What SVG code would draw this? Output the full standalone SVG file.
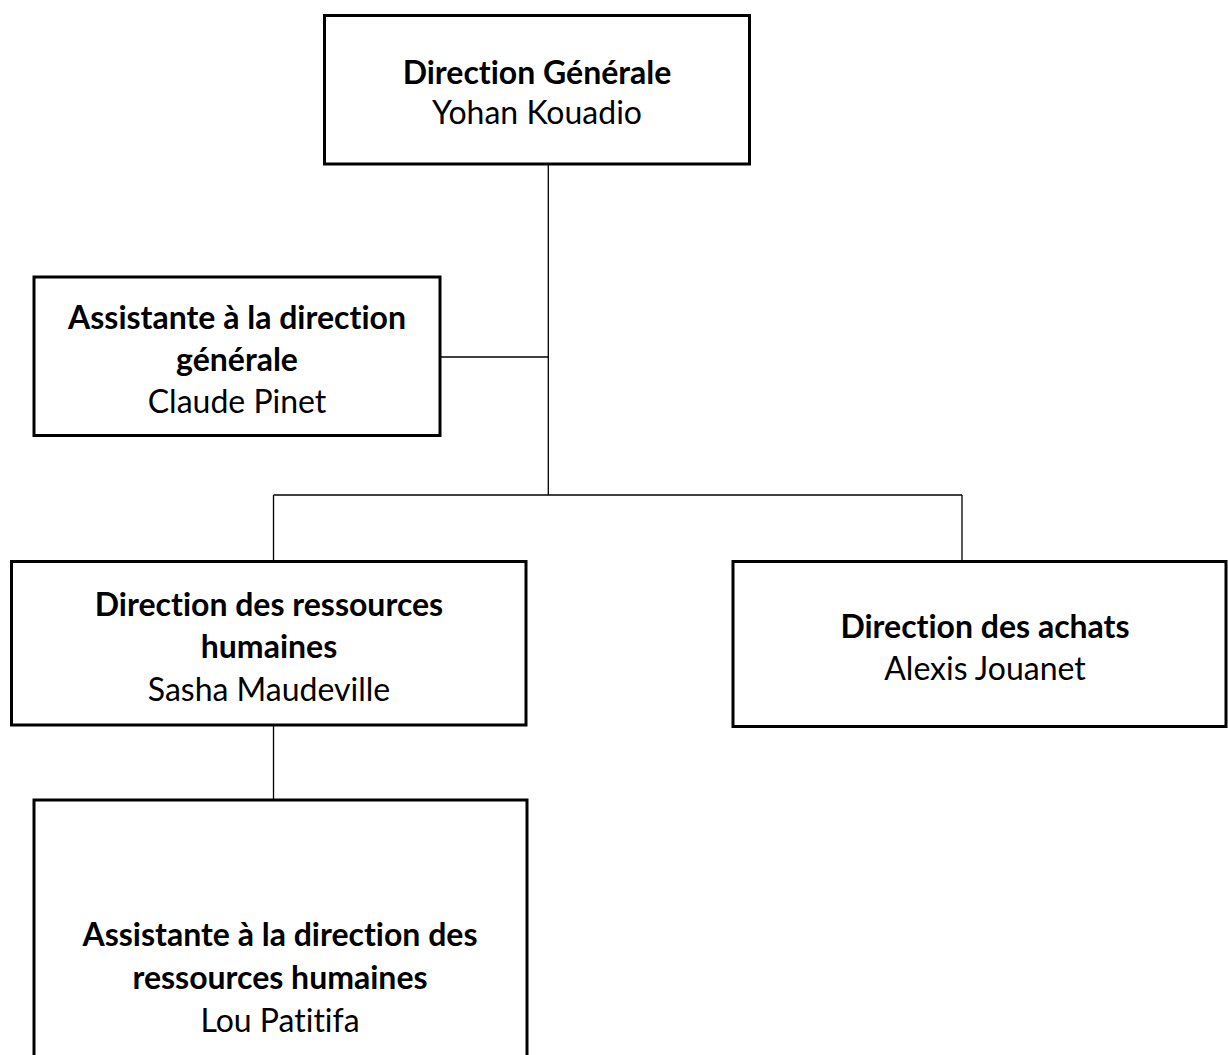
<svg xmlns="http://www.w3.org/2000/svg" width="1228" height="1055" viewBox="0 0 1228 1055">
<style>
.box{fill:#fff;stroke:#000;stroke-width:3}
.conn{stroke:#000;stroke-width:1.3;fill:none}
text{font-family:Lato,"Open Sans",sans-serif;font-size:32px;fill:#000;text-anchor:middle;font-variant-ligatures:none;font-feature-settings:"liga" 0,"clig" 0,"dlig" 0}
.b{font-weight:bold}
</style>
<rect width="1228" height="1055" fill="#fff"/>
<g id="connectors">
<line class="conn" x1="548.3" y1="164" x2="548.3" y2="495"/>
<line class="conn" x1="440" y1="357" x2="548.3" y2="357"/>
<line class="conn" x1="273.5" y1="495" x2="962" y2="495"/>
<line class="conn" x1="273.5" y1="495" x2="273.5" y2="561.5"/>
<line class="conn" x1="962" y1="495" x2="962" y2="561.5"/>
<line class="conn" x1="273.5" y1="725" x2="273.5" y2="800"/>
</g>
<g id="n1">
<rect class="box" x="324.5" y="15.5" width="425" height="148.5"/>
<text x="537" y="84" class="b">Direction Générale</text>
<text x="537" y="124">Yohan Kouadio</text>
</g>
<g id="n2">
<rect class="box" x="34" y="277" width="406" height="158.5"/>
<text x="237" y="329" class="b">Assistante à la direction</text>
<text x="237" y="371" class="b">générale</text>
<text x="237" y="413">Claude Pinet</text>
</g>
<g id="n3">
<rect class="box" x="11.5" y="561.5" width="514.5" height="163.5"/>
<text x="269" y="616" class="b">Direction des ressources</text>
<text x="269" y="658" class="b">humaines</text>
<text x="269" y="701">Sasha Maudeville</text>
</g>
<g id="n4">
<rect class="box" x="733" y="561.5" width="493" height="165"/>
<text x="985" y="638" class="b">Direction des achats</text>
<text x="985" y="680">Alexis Jouanet</text>
</g>
<g id="n5">
<rect class="box" x="34" y="800" width="493" height="280"/>
<text x="280" y="946" class="b">Assistante à la direction des</text>
<text x="280" y="989" class="b">ressources humaines</text>
<text x="280" y="1032">Lou Patitifa</text>
</g>
</svg>
